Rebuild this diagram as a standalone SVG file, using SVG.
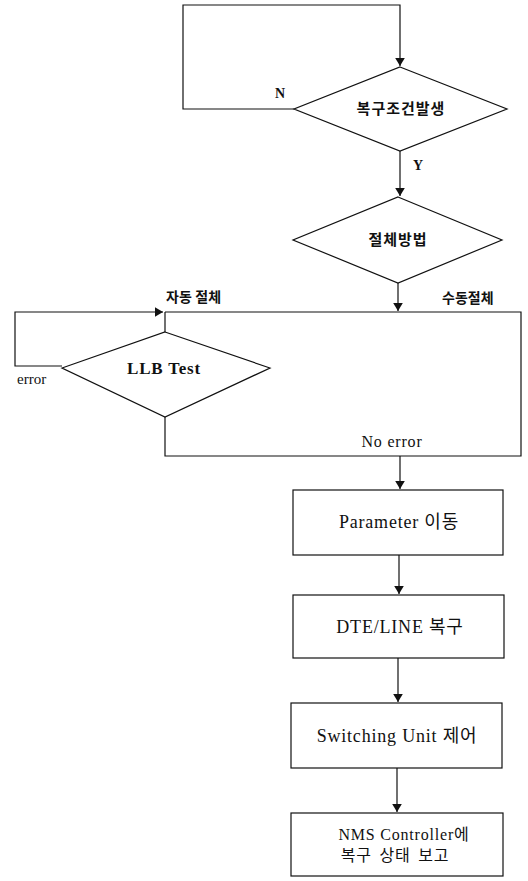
<svg xmlns="http://www.w3.org/2000/svg" width="528" height="881" viewBox="0 0 528 881">
<style>
.ln{fill:none;stroke:#111;stroke-width:1.2}
.sh{fill:#fff;stroke:#111;stroke-width:1.2}
.t{font-family:"Liberation Serif","Noto Sans CJK KR",serif;font-size:18px;letter-spacing:0.8px;fill:#111;text-anchor:middle}
.k{font-family:"Liberation Serif","Noto Sans CJK KR",serif;font-size:14px;font-weight:bold;fill:#111}
.c{text-anchor:middle;font-size:15px;letter-spacing:1px}
</style>
<defs>
<marker id="ah" viewBox="0 0 10 12" refX="10" refY="6" markerWidth="8" markerHeight="11" markerUnits="userSpaceOnUse" orient="auto">
<path d="M0,0 L10,6 L0,12 Z" fill="#111"/>
</marker>
</defs>
<g id="connectors">
<path class="ln" d="M294,109 H183 V5 H400 V66" marker-end="url(#ah)"/>
<path class="ln" d="M400,151 V196" marker-end="url(#ah)"/>
<path class="ln" d="M398,283 V311" marker-end="url(#ah)"/>
<path class="ln" d="M165,312 H521 V456 H165 V417"/>
<path class="ln" d="M165,312 V332"/>
<path class="ln" d="M62,366 H15 V312 H163" marker-end="url(#ah)"/>
<path class="ln" d="M400,456 V489" marker-end="url(#ah)"/>
<path class="ln" d="M399,555 V594" marker-end="url(#ah)"/>
<path class="ln" d="M398,658 V702" marker-end="url(#ah)"/>
<path class="ln" d="M397,768 V812" marker-end="url(#ah)"/>
<text class="k" x="275" y="98">N</text>
<text class="k" x="413" y="170">Y</text>
<text class="k" x="166" y="302">자동 절체</text>
<text class="k" x="442" y="303">수동절체</text>
<text class="k" x="17" y="384" style="font-weight:normal;font-size:15px">error</text>
<text class="t" x="392" y="447" style="font-size:16px">No error</text>
</g>
<g id="n1">
<polygon class="sh" points="400,67 507,109 400,151 294,109"/>
<text class="k c" x="401" y="114">복구조건발생</text>
</g>
<g id="n2">
<polygon class="sh" points="398,197 502,240 398,283 293,240"/>
<text class="k c" x="398" y="245">절체방법</text>
</g>
<g id="n3">
<polygon class="sh" points="165,332 270,368 165,417 62,368"/>
<text class="t" x="164" y="374" style="font-weight:bold;font-size:17px">LLB Test</text>
</g>
<g id="n4">
<rect class="sh" x="293" y="490" width="210" height="65"/>
<text class="t" x="399" y="528">Parameter 이동</text>
</g>
<g id="n5">
<rect class="sh" x="293" y="595" width="211" height="63"/>
<text class="t" x="400" y="633">DTE/LINE 복구</text>
</g>
<g id="n6">
<rect class="sh" x="291" y="703" width="211" height="65"/>
<text class="t" x="397" y="742">Switching Unit 제어</text>
</g>
<g id="n7">
<rect class="sh" x="291" y="813" width="212" height="63"/>
<text class="t" x="404" y="840" style="font-size:16px">NMS Controller에</text>
<text class="t" x="395" y="861" style="font-size:16px;word-spacing:3px">복구 상태 보고</text>
</g>
</svg>
